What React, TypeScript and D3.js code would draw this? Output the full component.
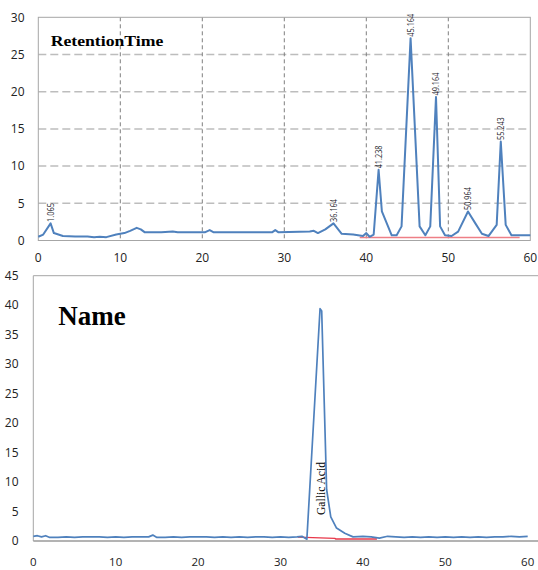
import React from "react";
import * as d3 from "d3";

// upper chromatogram (sample), [time, signal]
const topTrace: [number, number][] = [
  [0, 0.5], [0.6, 0.8], [1.5, 2.3], [1.9, 1.0], [3.0, 0.6], [4.5, 0.55], [6.0, 0.55],
  [6.8, 0.45], [7.5, 0.5], [8.3, 0.45], [9.5, 0.8], [10.5, 1.0], [11.2, 1.3], [12.0, 1.7],
  [12.5, 1.5], [13.0, 1.1], [15.0, 1.1], [16.4, 1.2], [17.0, 1.1], [20.3, 1.1], [20.9, 1.4],
  [21.4, 1.1], [25.0, 1.1], [28.5, 1.1], [28.9, 1.4], [29.3, 1.1], [33.1, 1.2], [33.6, 1.3],
  [34.1, 1.0], [35.0, 1.5], [36.0, 2.3], [37.0, 0.9], [38.4, 0.8], [39.6, 0.6], [40.0, 1.0],
  [40.4, 0.5], [40.9, 0.8], [41.5, 9.5], [41.9, 3.9], [42.5, 2.3], [43.1, 0.7], [43.7, 0.7],
  [44.3, 1.9], [45.4, 27.2], [46.5, 1.9], [47.2, 0.7], [47.8, 1.9], [48.5, 19.3], [49.0, 1.9],
  [49.6, 0.7], [50.4, 0.6], [51.2, 1.2], [52.4, 3.9], [53.3, 2.3], [54.1, 0.9], [54.9, 0.6],
  [55.9, 2.1], [56.4, 13.3], [57.0, 2.1], [57.7, 0.7], [60, 0.7],
];

const peakTimes = [1.5, 36.0, 41.5, 45.4, 48.5, 52.4, 56.4];
const peakNames = ["1.065", "36.164", "41.238", "45.164", "49.164", "50.964", "55.243"];
const topBaseline: [number, number][] = [[39.2, 0.4], [58.7, 0.4]];

// lower chromatogram (standard)
const bottomTrace: [number, number][] = [
  [0, 0.8], [0.5, 0.9], [1, 0.7], [1.5, 0.9], [2, 0.6], [3, 0.6], [4, 0.7], [5, 0.6],
  [6, 0.7], [7, 0.7], [8, 0.7], [9, 0.6], [10, 0.7], [11, 0.6], [12, 0.7], [13, 0.7],
  [14, 0.7], [14.5, 1.0], [15, 0.6], [16, 0.6], [17, 0.7], [18, 0.6], [19, 0.7], [20, 0.7],
  [21, 0.7], [22, 0.6], [23, 0.7], [24, 0.6], [25, 0.7], [26, 0.6], [27, 0.7], [28, 0.7],
  [29, 0.6], [30, 0.7], [31, 0.6], [32, 0.7], [32.6, 0.8], [33.2, 0.3], [34.8, 39.4],
  [35.0, 39.0], [35.6, 8.7], [36.1, 4.1], [36.8, 2.2], [37.8, 1.3], [38.8, 0.7], [40, 0.8],
  [41, 0.7], [42, 0.5], [43, 0.8], [44, 0.7], [45, 0.6], [46, 0.7], [47, 0.6], [48, 0.7],
  [49, 0.6], [50, 0.7], [51, 0.6], [52, 0.7], [53, 0.6], [54, 0.7], [55, 0.6], [56, 0.7],
  [57, 0.7], [58, 0.8], [59, 0.7], [60, 0.8],
];
const bottomBaseline: [number, number][] = [[32.1, 0.65], [36.6, 0.45], [36.7, 0.35], [41.7, 0.35]];

const xTicks = [0, 10, 20, 30, 40, 50, 60];
const topYTicks = [0, 5, 10, 15, 20, 25, 30];
const bottomYTicks = [0, 5, 10, 15, 20, 25, 30, 35, 40, 45];

const BLUE = "#4f81bd";
const RED = "#e8384a";
const TICK_FONT = "'Open Sans', sans-serif";
const SERIF = "'Liberation Serif', 'Times New Roman', serif";

export default function App() {
  const xTop = d3.scaleLinear().domain([0, 60]).range([38.3, 530.3]);
  const yTop = d3.scaleLinear().domain([0, 30]).range([240.5, 17.3]);
  const xBot = d3.scaleLinear().domain([0, 60]).range([33.3, 527.7]);
  const yBot = d3.scaleLinear().domain([0, 45]).range([541, 275.7]);

  const lineTop = d3.line<[number, number]>().x((d) => xTop(d[0])).y((d) => yTop(d[1]));
  const lineBot = d3.line<[number, number]>().x((d) => xBot(d[0])).y((d) => yBot(d[1]));

  const heightAt = (t: number) => {
    const p = topTrace.find((d) => d[0] === t);
    return p ? p[1] : 0;
  };

  return (
    <svg
      width={538}
      height={570}
      style={{ position: "absolute", left: 0, top: 0, background: "#fff" }}
    >
      {/* upper chart */}
      <g>
        {topYTicks.slice(1, -1).map((t) => (
          <line
            key={"hg" + t}
            x1={xTop(0)}
            x2={xTop(60)}
            y1={yTop(t)}
            y2={yTop(t)}
            stroke="#bdbdbd"
            strokeWidth={1.5}
            strokeDasharray="8,4"
          />
        ))}
        {xTicks.slice(1, -1).map((t) => (
          <line
            key={"vg" + t}
            x1={xTop(t)}
            x2={xTop(t)}
            y1={yTop(30)}
            y2={yTop(0)}
            stroke="#7f7f7f"
            strokeWidth={1}
            strokeDasharray="4,3"
          />
        ))}
        <rect
          x={xTop(0)}
          y={yTop(30)}
          width={xTop(60) - xTop(0)}
          height={yTop(0) - yTop(30)}
          fill="none"
          stroke="#a6a6a6"
          strokeWidth={1}
        />
        {topYTicks.map((t) => (
          <text
            key={"ty" + t}
            x={24.5}
            y={yTop(t)}
            dy="0.35em"
            textAnchor="end"
            fontFamily={TICK_FONT}
            fontSize={12}
            fill="#222"
          >
            {t}
          </text>
        ))}
        {xTicks.map((t) => (
          <text
            key={"tx" + t}
            x={xTop(t)}
            y={262}
            textAnchor="middle"
            fontFamily={TICK_FONT}
            fontSize={12}
            fill="#222"
          >
            {t}
          </text>
        ))}
        <path d={lineTop(topBaseline) || ""} fill="none" stroke="#ee7f86" strokeWidth={1.4} />
        <path
          d={lineTop(topTrace) || ""}
          fill="none"
          stroke={BLUE}
          strokeWidth={2}
          strokeLinejoin="round"
        />
        {peakTimes.map((t, i) => {
          const px = xTop(t) + 3.4;
          const py = yTop(heightAt(t)) - 1.5;
          const name = peakNames[i];
          return (
            <text
              key={"pk" + i}
              transform={`translate(${px},${py}) rotate(-90)`}
              fontFamily={TICK_FONT}
              fontSize={9.5}
              fill="#1f1f2f"
              textLength={name.length * 3.8}
              lengthAdjust="spacingAndGlyphs"
            >
              {name}
            </text>
          );
        })}
        <text
          x={50.7}
          y={45.5}
          fontFamily={SERIF}
          fontWeight="bold"
          fontSize={14.5}
          textLength={112.6}
          lengthAdjust="spacingAndGlyphs"
          fill="#000"
        >
          RetentionTime
        </text>
      </g>

      {/* lower chart */}
      <g>
        <line x1={xBot(0)} x2={538} y1={yBot(45)} y2={yBot(45)} stroke="#a6a6a6" strokeWidth={1} />
        <line x1={xBot(0)} x2={xBot(0)} y1={yBot(45)} y2={yBot(0)} stroke="#a6a6a6" strokeWidth={1} />
        <line x1={xBot(0)} x2={538} y1={yBot(0)} y2={yBot(0)} stroke="#9a9a9a" strokeWidth={1.5} />
        {bottomYTicks.map((t) => (
          <text
            key={"by" + t}
            x={18.5}
            y={yBot(t)}
            dy="0.35em"
            textAnchor="end"
            fontFamily={TICK_FONT}
            fontSize={12}
            fill="#222"
          >
            {t}
          </text>
        ))}
        {xTicks.map((t) => (
          <text
            key={"bx" + t}
            x={xBot(t)}
            y={566}
            textAnchor="middle"
            fontFamily={TICK_FONT}
            fontSize={11.5}
            fill="#222"
          >
            {t}
          </text>
        ))}
        <path d={lineBot(bottomBaseline) || ""} fill="none" stroke={RED} strokeWidth={1.4} />
        <path
          d={lineBot(bottomTrace) || ""}
          fill="none"
          stroke={BLUE}
          strokeWidth={1.7}
          strokeLinejoin="round"
        />
        <text
          transform={`translate(${xBot(34.9) + 4.5},515) rotate(-90)`}
          fontFamily={SERIF}
          fontSize={12}
          textLength={53}
          lengthAdjust="spacingAndGlyphs"
          fill="#000"
        >
          Gallic Acid
        </text>
        <text x={58.3} y={325} fontFamily={SERIF} fontWeight="bold" fontSize={27} fill="#000">
          Name
        </text>
      </g>
    </svg>
  );
}
